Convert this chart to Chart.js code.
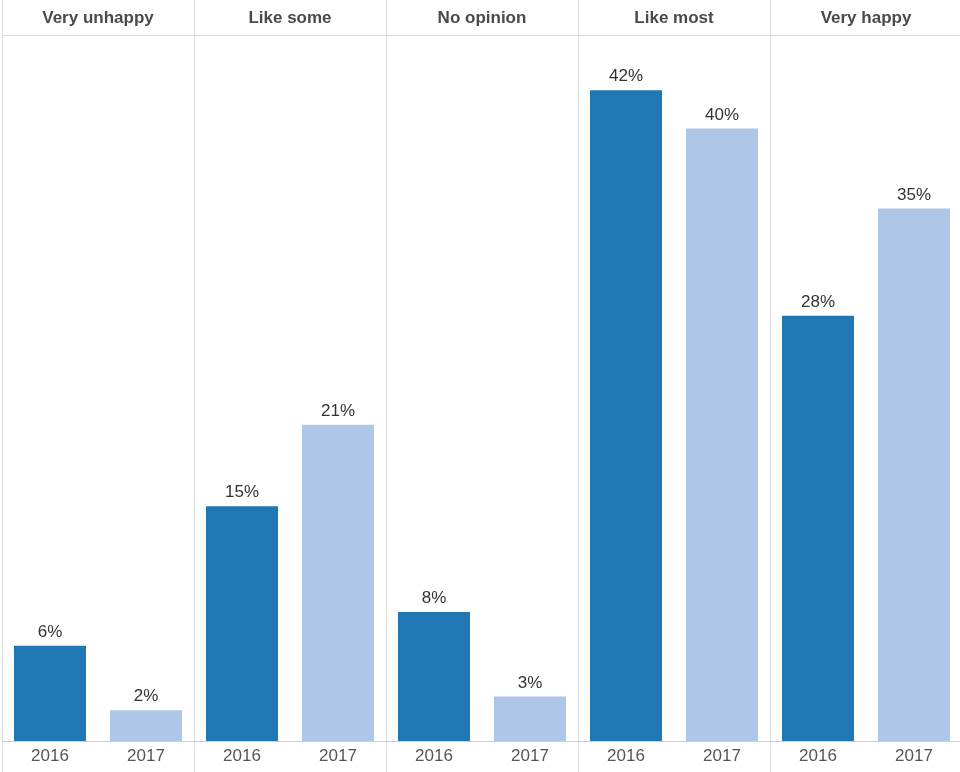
<!DOCTYPE html>
<html>
<head>
<meta charset="utf-8">
<script src="https://cdn.jsdelivr.net/npm/chart.js@4"></script>
<style>
  html, body { margin: 0; padding: 0; background: #fff; overflow: hidden; }
  #wrap { width: 962px; height: 772px; }
</style>
</head>
<body>
<div id="wrap"><canvas id="chart" width="962" height="772"></canvas></div>
<script>
// groups across the top, years along the bottom
var groups = ["Very unhappy", "Like some", "No opinion", "Like most", "Very happy"];
var years = ["2016", "2017"];
var v2016 = [6.2, 15.3, 8.4, 42.4, 27.7];
var v2017 = [2.0, 20.6, 2.9, 39.9, 34.7];

var colDark = "#1f77b4";
var colLight = "#aec7e8";

var labels = [];
var values = [];
var colors = [];
for (var i = 0; i < groups.length; i++) {
  labels.push(years[0]); values.push(v2016[i]); colors.push(colDark);
  labels.push(years[1]); values.push(v2017[i]); colors.push(colLight);
}

var fontFam = "'Liberation Sans', Arial, Helvetica, sans-serif";

// percent labels on top of the bars
var barLabels = {
  id: "barLabels",
  afterDatasetsDraw: function (chart) {
    var ctx = chart.ctx;
    var meta = chart.getDatasetMeta(0);
    ctx.save();
    ctx.font = "17px " + fontFam;
    ctx.fillStyle = "#333";
    ctx.textAlign = "center";
    ctx.textBaseline = "bottom";
    meta.data.forEach(function (bar, i) {
      ctx.fillText(Math.round(values[i]) + "%", bar.x, bar.y - 5);
    });
    ctx.restore();
  }
};

var ctx = document.getElementById("chart");
var chart = new Chart(ctx, {
  type: "bar",
  data: {
    labels: labels,
    datasets: [{
      data: values,
      backgroundColor: colors,
      borderWidth: 0,
      barPercentage: 0.75,
      categoryPercentage: 1.0,
      xAxisID: "x",
      yAxisID: "y"
    }]
  },
  options: {
    responsive: false,
    animation: false,
    // both x axes are mirrored with zero height, the padding holds the header and year row
    layout: { padding: { left: 2, right: 0, top: 35, bottom: 31 } },
    plugins: {
      legend: { display: false },
      tooltip: { enabled: false }
    },
    scales: {
      x: {
        position: "bottom",
        offset: true,
        grid: {
          offset: true,
          drawOnChartArea: false,
          drawTicks: true,
          tickLength: 50.4,
          color: function (c) { return c.index % 2 === 0 ? "#dcdcdc" : "rgba(0,0,0,0)"; }
        },
        border: { display: true, color: "#cfcfcf" },
        ticks: {
          mirror: true,
          color: "#555",
          font: { family: fontFam, size: 17 },
          padding: -25.2,
          maxRotation: 0,
          autoSkip: false
        }
      },
      x2: {
        type: "category",
        position: "top",
        labels: groups,
        offset: true,
        grid: {
          offset: true,
          drawOnChartArea: true,
          drawTicks: true,
          tickLength: 54.4,
          color: "#dcdcdc"
        },
        border: { display: true, color: "#d6d6d6" },
        ticks: {
          mirror: true,
          color: "#4a4a4a",
          font: { family: fontFam, size: 17, weight: "bold" },
          padding: -27.2,
          maxRotation: 0,
          autoSkip: false
        }
      },
      y: {
        display: false,
        min: 0,
        max: 46
      }
    }
  },
  plugins: [barLabels]
});
</script>
</body>
</html>
